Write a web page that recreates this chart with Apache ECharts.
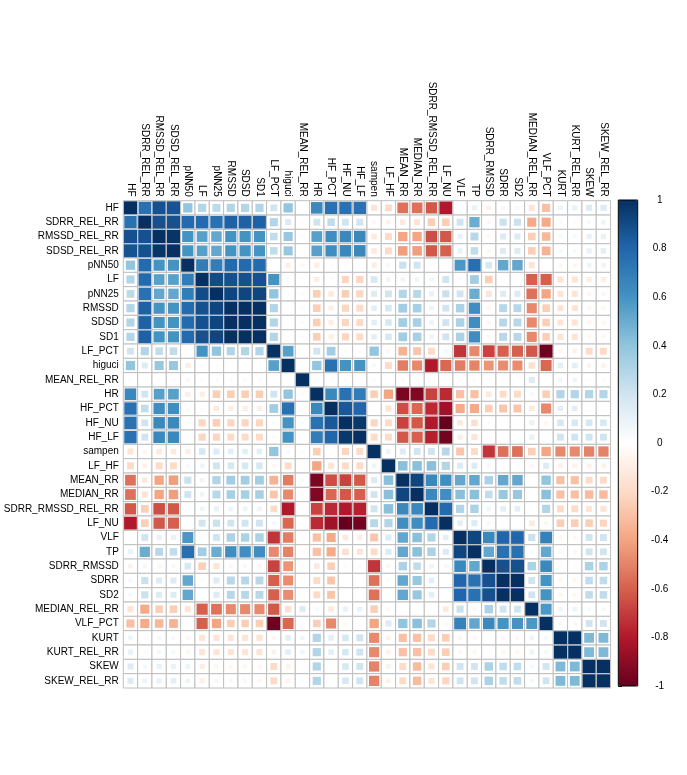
<!DOCTYPE html>
<html>
<head>
<meta charset="utf-8">
<script src="https://cdn.jsdelivr.net/npm/echarts@6/dist/echarts.min.js"></script>
<style>
html, body { margin: 0; padding: 0; background: #fff; }
#main { width: 687px; height: 775px; }
</style>
</head>
<body>
<div id="main"></div>
<script>
// variable names, in plot order
var names = ['HF', 'SDRR_REL_RR', 'RMSSD_REL_RR', 'SDSD_REL_RR', 'pNN50', 'LF', 'pNN25', 'RMSSD', 'SDSD', 'SD1',
  'LF_PCT', 'higuci', 'MEAN_REL_RR', 'HR', 'HF_PCT', 'HF_NU', 'HF_LF', 'sampen', 'LF_HF', 'MEAN_RR',
  'MEDIAN_RR', 'SDRR_RMSSD_REL_RR', 'LF_NU', 'VLF', 'TP', 'SDRR_RMSSD', 'SDRR', 'SD2', 'MEDIAN_REL_RR', 'VLF_PCT',
  'KURT', 'KURT_REL_RR', 'SKEW', 'SKEW_REL_RR'];

// upper triangle of the correlation matrix, each row starts at its diagonal
var u_HF = [1, 0.75, 0.88, 0.87, 0.4, 0.3, 0.27, 0.3, 0.3, 0.3, 0.2, 0.4, 0.02, 0.65, 0.75, 0.75, 0.75, -0.15, -0.2, -0.55, -0.55, -0.62, -0.8, 0.02, 0.1, -0.08, 0.05, 0.05, -0.15, -0.3, 0.08, 0.1, 0.15, 0.15];
var u_SDRR_REL_RR = [1, 0.88, 0.88, 0.78, 0.78, 0.75, 0.82, 0.82, 0.82, 0.3, 0.15, 0.02, 0.2, 0.25, 0.2, 0.2, -0.05, -0.08, -0.12, -0.15, -0.25, -0.25, 0.2, 0.5, -0.05, 0.22, 0.22, -0.38, -0.38, -0.03, -0.03, 0.05, 0.08];
var u_RMSSD_REL_RR = [1, 0.98, 0.6, 0.55, 0.52, 0.6, 0.6, 0.6, 0.25, 0.38, 0.02, 0.55, 0.62, 0.65, 0.65, -0.12, -0.2, -0.4, -0.4, -0.65, -0.62, 0.1, 0.28, -0.05, 0.15, 0.15, -0.25, -0.33, 0.05, 0.05, 0.1, 0.1];
var u_SDSD_REL_RR = [1, 0.6, 0.55, 0.52, 0.6, 0.6, 0.6, 0.25, 0.38, 0.02, 0.55, 0.62, 0.65, 0.65, -0.12, -0.2, -0.42, -0.42, -0.62, -0.6, 0.1, 0.25, -0.05, 0.15, 0.15, -0.25, -0.35, 0.05, 0.05, 0.1, 0.12];
var u_pNN50 = [1, 0.7, 0.7, 0.78, 0.78, 0.78, 0, -0.1, -0.05, -0.1, -0.03, 0.02, 0.02, -0.1, 0.05, 0.22, 0.2, 0.02, 0.02, 0.58, 0.76, 0.18, 0.52, 0.52, -0.15, 0, -0.05, -0.05, 0.08, 0.08];
var u_LF = [1, 0.9, 0.88, 0.88, 0.88, 0.6, 0.03, -0.02, -0.1, -0.03, -0.22, -0.22, 0.18, 0.08, 0.07, 0.07, 0.07, 0.2, 0.03, 0.35, -0.25, 0.02, 0.02, -0.6, -0.6, -0.15, -0.15, -0.1, -0.1];
var u_pNN25 = [1, 0.92, 0.92, 0.92, 0.4, 0.03, 0.03, -0.25, -0.12, -0.25, -0.22, 0.15, 0.2, 0.3, 0.28, 0.1, 0.22, 0.2, 0.5, -0.15, 0.15, 0.15, -0.55, -0.4, -0.15, -0.15, -0.05, -0.05];
var u_RMSSD = [1, 1, 1, 0.3, 0.02, -0.03, -0.25, -0.1, -0.22, -0.2, 0.12, 0.18, 0.35, 0.33, 0.08, 0.2, 0.32, 0.62, -0.05, 0.28, 0.28, -0.48, -0.25, -0.15, -0.15, -0.05, -0.05];
var u_SDSD = [1, 1, 0.3, 0.02, -0.03, -0.25, -0.1, -0.22, -0.2, 0.12, 0.18, 0.35, 0.33, 0.08, 0.2, 0.32, 0.62, -0.05, 0.28, 0.28, -0.48, -0.25, -0.15, -0.15, -0.05, -0.05];
var u_SD1 = [1, 0.3, 0.02, -0.03, -0.25, -0.1, -0.22, -0.2, 0.12, 0.18, 0.35, 0.33, 0.08, 0.2, 0.32, 0.62, -0.05, 0.28, 0.28, -0.48, -0.25, -0.15, -0.15, -0.05, -0.05];
var u_LF_PCT = [1, 0.55, 0, 0.2, 0.35, 0.03, -0.03, 0.4, -0.05, -0.35, -0.28, -0.2, 0.05, -0.72, -0.48, -0.68, -0.6, -0.6, -0.62, -0.98, -0.05, -0.08, -0.2, -0.2];
var u_higuci = [1, 0.02, 0.4, 0.75, 0.6, 0.6, 0.05, -0.2, -0.52, -0.48, -0.8, -0.58, -0.52, -0.5, -0.45, -0.47, -0.47, -0.17, -0.58, 0.12, 0.12, -0.07, -0.07];
var u_MEAN_REL_RR = [1, 0.03, 0.02, 0.03, 0.02, -0.03, 0, 0.03, 0.03, 0.02, 0.02, 0.03, -0.03, 0.02, 0, 0, 0.15, 0, 0.07, 0.07, 0.02, 0.03];
var u_HR = [1, 0.65, 0.75, 0.7, -0.25, -0.4, -0.95, -0.93, -0.68, -0.75, -0.3, -0.3, -0.12, -0.2, -0.2, 0.05, -0.25, 0.3, 0.3, 0.3, 0.3];
var u_HF_PCT = [1, 0.85, 0.8, 0, -0.15, -0.65, -0.58, -0.75, -0.85, -0.38, -0.38, -0.25, -0.28, -0.28, -0.12, -0.48, 0.12, 0.12, 0, 0];
var u_HF_NU = [1, 0.97, -0.22, -0.2, -0.68, -0.62, -0.8, -1, -0.12, -0.18, 0.03, 0, 0, 0.1, -0.05, 0.18, 0.18, 0.18, 0.18];
var u_HF_LF = [1, -0.2, -0.2, -0.62, -0.6, -0.78, -0.97, -0.1, -0.15, 0.03, 0, 0, 0.1, 0, 0.2, 0.2, 0.2, 0.2];
var u_sampen = [1, 0.08, 0.15, 0.2, 0.2, 0.28, -0.28, -0.2, -0.72, -0.55, -0.55, -0.25, -0.4, -0.48, -0.48, -0.5, -0.5];
var u_LF_HF = [1, 0.42, 0.42, 0.42, 0.3, 0.15, 0.15, -0.05, -0.02, -0.02, -0.05, 0.15, -0.08, -0.08, -0.08, -0.08];
var u_MEAN_RR = [1, 0.92, 0.65, 0.62, 0.52, 0.52, 0.32, 0.52, 0.52, 0, 0.4, -0.3, -0.3, -0.2, -0.2];
var u_MEDIAN_RR = [1, 0.65, 0.62, 0.42, 0.42, 0.25, 0.38, 0.38, 0, 0.42, -0.3, -0.3, -0.32, -0.32];
var u_SDRR_RMSSD_REL_RR = [1, 0.78, 0.3, 0.32, 0.08, 0.12, 0.12, 0, 0.3, -0.2, -0.2, -0.15, -0.15];
var u_LF_NU = [1, 0.12, 0.15, -0.05, 0, 0, -0.12, -0.05, -0.25, -0.25, -0.25, -0.22];
var u_VLF = [1, 0.92, 0.65, 0.8, 0.8, 0.22, 0.68, -0.05, -0.05, 0.2, 0.2];
var u_TP = [1, 0.52, 0.75, 0.75, 0.05, 0.52, -0.05, -0.05, 0.2, 0.2];
var u_SDRR_RMSSD = [1, 0.88, 0.88, 0.32, 0.65, 0.02, 0.02, 0.32, 0.32];
var u_SDRR = [1, 1, 0.2, 0.6, -0.05, -0.05, 0.25, 0.25];
var u_SD2 = [1, 0.2, 0.6, -0.05, -0.05, 0.25, 0.25];
var u_MEDIAN_REL_RR = [1, 0.58, 0.08, 0.08, 0.05, 0.05];
var u_VLF_PCT = [1, 0.05, 0.05, 0.2, 0.2];
var u_KURT = [1, 1, 0.45, 0.45];
var u_KURT_REL_RR = [1, 0.45, 0.45];
var u_SKEW = [1, 1];
var u_SKEW_REL_RR = [1];

// colour bar ticks
var barTicks = [-1, -0.8, -0.6, -0.4, -0.2, 0, 0.2, 0.4, 0.6, 0.8, 1];
var palette = ['#67001F', '#B2182B', '#D6604D', '#F4A582', '#FDDBC7', '#FFFFFF',
  '#D1E5F0', '#92C5DE', '#4393C3', '#2166AC', '#053061'];

var upper = [u_HF, u_SDRR_REL_RR, u_RMSSD_REL_RR, u_SDSD_REL_RR, u_pNN50, u_LF, u_pNN25, u_RMSSD, u_SDSD, u_SD1,
  u_LF_PCT, u_higuci, u_MEAN_REL_RR, u_HR, u_HF_PCT, u_HF_NU, u_HF_LF, u_sampen, u_LF_HF, u_MEAN_RR,
  u_MEDIAN_RR, u_SDRR_RMSSD_REL_RR, u_LF_NU, u_VLF, u_TP, u_SDRR_RMSSD, u_SDRR, u_SD2, u_MEDIAN_REL_RR, u_VLF_PCT,
  u_KURT, u_KURT_REL_RR, u_SKEW, u_SKEW_REL_RR];

var cells = [];
upper.forEach(function (row, i) {
  row.forEach(function (v, k) {
    var j = i + k;
    cells.push([j, i, v]);
    if (j !== i) cells.push([i, j, v]);
  });
});

var font = '"Liberation Sans", Arial, sans-serif';
var gLeft = 123.3, gTop = 200.7, gSize = 487.3;

var chart = echarts.init(document.getElementById('main'));
chart.setOption({
  backgroundColor: '#fff',
  animation: false,
  grid: [
    { left: gLeft, top: gTop, width: gSize, height: gSize },
    { left: 618.3, top: 200, width: 19.4, height: 486 }
  ],
  xAxis: [{
    type: 'category',
    gridIndex: 0,
    data: names,
    position: 'top',
    axisLine: { show: false },
    axisTick: { show: false },
    splitLine: { show: false },
    axisLabel: { interval: 0, rotate: 90, margin: 4, color: '#000', fontSize: 10, fontFamily: font }
  }, {
    type: 'value',
    gridIndex: 1,
    show: false
  }],
  yAxis: [{
    type: 'category',
    gridIndex: 0,
    data: names,
    inverse: true,
    axisLine: { show: false },
    axisTick: { show: false },
    splitLine: { show: false },
    axisLabel: { interval: 0, margin: 4.5, color: '#000', fontSize: 10, fontFamily: font }
  }, {
    type: 'value',
    gridIndex: 1,
    position: 'right',
    min: -1,
    max: 1,
    interval: 0.2,
    axisLine: { show: false },
    splitLine: { show: false },
    axisTick: { show: true, length: 3.5, lineStyle: { color: '#000', width: 1 } },
    axisLabel: {
      margin: 22, align: 'center', color: '#000', fontSize: 10, fontFamily: font,
      customValues: barTicks,
      formatter: function (v) { return String(Math.round(v * 10) / 10); }
    }
  }],
  visualMap: {
    type: 'continuous',
    min: -1,
    max: 1,
    dimension: 2,
    seriesIndex: 0,
    orient: 'vertical',
    left: 618.3,
    top: 200,
    itemWidth: 19.4,
    itemHeight: 486,
    padding: 0,
    calculable: false,
    hoverLink: false,
    inRange: { color: palette }
  },
  graphic: [{
    type: 'rect',
    z: 100,
    shape: { x: 618.3, y: 200, width: 19.4, height: 486 },
    style: { fill: 'none', stroke: '#000', lineWidth: 1 }
  }],
  series: [{
    type: 'custom',
    xAxisIndex: 0,
    yAxisIndex: 0,
    data: cells,
    renderItem: function (params, api) {
      var c = api.coord([api.value(0), api.value(1)]);
      var s = api.size([1, 1]);
      var r = api.value(2);
      var full = s[0] - 1.2;
      // square area follows |r|, with a thin outline like the original
      var side = r === 0 ? 0 : Math.min(full, Math.sqrt(Math.abs(r)) * full + 1);
      return {
        type: 'group',
        children: [{
          type: 'rect',
          shape: { x: c[0] - s[0] / 2, y: c[1] - s[1] / 2, width: s[0], height: s[1] },
          style: { fill: '#fff', stroke: '#BEBEBE', lineWidth: 1 }
        }, {
          type: 'rect',
          shape: { x: c[0] - side / 2, y: c[1] - side / 2, width: side, height: side },
          style: { fill: api.visual('color') }
        }]
      };
    }
  }, {
    type: 'line',
    xAxisIndex: 1,
    yAxisIndex: 1,
    data: [],
    silent: true
  }]
});
</script>
</body>
</html>
